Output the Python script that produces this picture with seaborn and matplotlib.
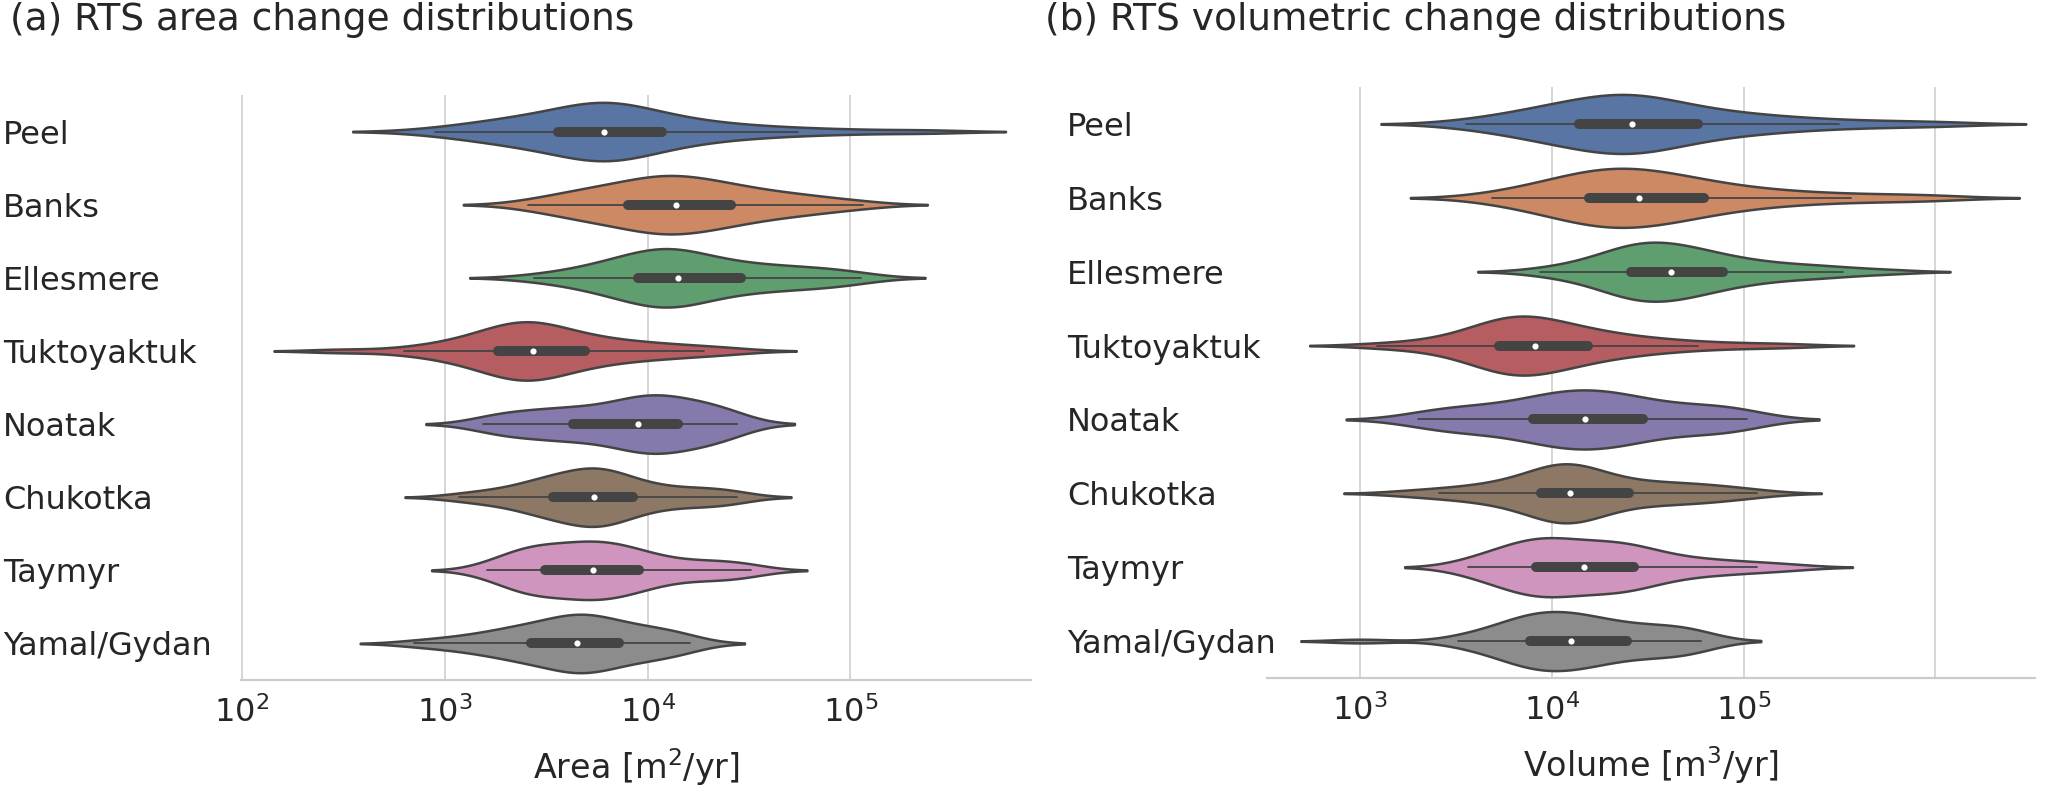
import numpy as np
import pandas as pd
import matplotlib
matplotlib.use("Agg")
import matplotlib.pyplot as plt
import seaborn as sns

regions = ["Peel", "Banks", "Ellesmere", "Tuktoyaktuk", "Noatak",
           "Chukotka", "Taymyr", "Yamal/Gydan"]

# ---- (a) RTS area change, log10(m^2/yr), values estimated from the figure ----
area_peel = [2.95, 3.10, 3.18, 3.25, 3.31, 3.36, 3.41, 3.45, 3.49, 3.52,
             3.57, 3.62, 3.66, 3.69, 3.71, 3.73, 3.745, 3.76, 3.77, 3.78,
             3.79, 3.81, 3.83, 3.86, 3.89, 3.92, 3.95, 3.98, 4.02, 4.06,
             4.10, 4.15, 4.21, 4.28, 4.36, 4.46, 4.58, 4.74, 4.98, 5.36]
area_banks = [3.41, 3.52, 3.59, 3.64, 3.69, 3.73, 3.77, 3.81, 3.85, 3.88,
              3.91, 3.94, 3.97, 4.00, 4.03, 4.05, 4.07, 4.09, 4.11, 4.13,
              4.15, 4.17, 4.20, 4.23, 4.26, 4.29, 4.32, 4.35, 4.37, 4.40,
              4.44, 4.48, 4.53, 4.58, 4.63, 4.69, 4.75, 4.82, 4.92, 5.06]
area_ellesmere = [3.44, 3.58, 3.66, 3.72, 3.77, 3.81, 3.85, 3.88, 3.91, 3.93,
                  3.96, 3.99, 4.02, 4.04, 4.06, 4.08, 4.09, 4.10, 4.12, 4.14,
                  4.16, 4.18, 4.21, 4.24, 4.27, 4.30, 4.33, 4.37, 4.41, 4.45,
                  4.50, 4.55, 4.60, 4.65, 4.71, 4.77, 4.83, 4.90, 4.97, 5.05]
area_tuktoyaktuk = [2.48, 2.80, 2.92, 3.00, 3.07, 3.12, 3.16, 3.19, 3.22, 3.24,
                    3.27, 3.30, 3.32, 3.34, 3.36, 3.38, 3.39, 3.40, 3.41, 3.43,
                    3.44, 3.46, 3.48, 3.50, 3.53, 3.56, 3.59, 3.62, 3.65, 3.68,
                    3.72, 3.77, 3.82, 3.88, 3.94, 4.00, 4.08, 4.17, 4.28, 4.41]
area_noatak = [3.19, 3.24, 3.29, 3.34, 3.39, 3.44, 3.49, 3.53, 3.57, 3.61,
               3.64, 3.68, 3.72, 3.76, 3.80, 3.84, 3.87, 3.90, 3.92, 3.94,
               3.96, 3.98, 4.00, 4.02, 4.04, 4.06, 4.08, 4.10, 4.12, 4.14,
               4.17, 4.20, 4.23, 4.26, 4.29, 4.32, 4.35, 4.38, 4.41, 4.44]
area_chukotka = [3.07, 3.17, 3.25, 3.32, 3.38, 3.42, 3.45, 3.48, 3.50, 3.52,
                 3.54, 3.57, 3.60, 3.63, 3.65, 3.67, 3.69, 3.71, 3.72, 3.73,
                 3.74, 3.75, 3.77, 3.79, 3.81, 3.83, 3.85, 3.87, 3.89, 3.92,
                 3.96, 4.00, 4.05, 4.10, 4.16, 4.22, 4.28, 4.34, 4.39, 4.44]
area_taymyr = [3.21, 3.27, 3.31, 3.35, 3.38, 3.40, 3.42, 3.44, 3.46, 3.48,
               3.50, 3.53, 3.56, 3.59, 3.62, 3.65, 3.67, 3.69, 3.71, 3.72,
               3.74, 3.76, 3.78, 3.80, 3.83, 3.86, 3.88, 3.90, 3.92, 3.95,
               3.98, 4.02, 4.07, 4.13, 4.19, 4.26, 4.33, 4.39, 4.45, 4.51]
area_yamal = [2.85, 2.99, 3.08, 3.15, 3.21, 3.26, 3.30, 3.34, 3.37, 3.40,
              3.43, 3.46, 3.49, 3.52, 3.55, 3.57, 3.59, 3.61, 3.63, 3.64,
              3.66, 3.68, 3.70, 3.71, 3.73, 3.75, 3.77, 3.79, 3.82, 3.85,
              3.88, 3.91, 3.94, 3.97, 4.01, 4.05, 4.09, 4.13, 4.17, 4.21]

# ---- (b) RTS volumetric change, log10(m^3/yr), values estimated from the figure ----
vol_peel = [3.55, 3.70, 3.79, 3.86, 3.92, 3.97, 4.02, 4.06, 4.09, 4.12,
            4.15, 4.19, 4.23, 4.27, 4.30, 4.33, 4.35, 4.37, 4.39, 4.41,
            4.43, 4.45, 4.47, 4.50, 4.53, 4.57, 4.61, 4.65, 4.70, 4.75,
            4.80, 4.86, 4.93, 5.01, 5.10, 5.20, 5.33, 5.50, 5.74, 6.03]
vol_banks = [3.69, 3.80, 3.88, 3.95, 4.00, 4.05, 4.09, 4.12, 4.15, 4.17,
             4.20, 4.24, 4.27, 4.30, 4.32, 4.34, 4.36, 4.38, 4.41, 4.44,
             4.47, 4.50, 4.53, 4.56, 4.59, 4.62, 4.66, 4.70, 4.74, 4.78,
             4.83, 4.89, 4.96, 5.04, 5.13, 5.24, 5.38, 5.56, 5.78, 6.01]
vol_ellesmere = [3.94, 4.07, 4.15, 4.21, 4.26, 4.30, 4.33, 4.36, 4.38, 4.40,
                 4.42, 4.44, 4.46, 4.48, 4.50, 4.52, 4.54, 4.56, 4.58, 4.61,
                 4.63, 4.65, 4.67, 4.70, 4.72, 4.75, 4.78, 4.81, 4.84, 4.88,
                 4.92, 4.97, 5.02, 5.08, 5.15, 5.23, 5.32, 5.42, 5.52, 5.75]
vol_tuktoyaktuk = [3.09, 3.30, 3.41, 3.49, 3.55, 3.60, 3.64, 3.67, 3.69, 3.71,
                   3.73, 3.75, 3.77, 3.79, 3.81, 3.83, 3.84, 3.86, 3.88, 3.90,
                   3.92, 3.94, 3.96, 3.99, 4.02, 4.05, 4.08, 4.11, 4.14, 4.18,
                   4.22, 4.27, 4.32, 4.38, 4.45, 4.53, 4.63, 4.76, 4.96, 5.22]
vol_noatak = [3.30, 3.37, 3.44, 3.51, 3.57, 3.63, 3.69, 3.75, 3.81, 3.87,
              3.91, 3.94, 3.97, 4.00, 4.03, 4.06, 4.09, 4.12, 4.14, 4.16,
              4.19, 4.22, 4.25, 4.28, 4.31, 4.34, 4.37, 4.40, 4.43, 4.46,
              4.52, 4.58, 4.64, 4.70, 4.76, 4.82, 4.88, 4.94, 4.98, 5.02]
vol_chukotka = [3.25, 3.41, 3.52, 3.61, 3.68, 3.74, 3.79, 3.84, 3.88, 3.92,
                3.95, 3.98, 4.00, 4.02, 4.04, 4.05, 4.06, 4.07, 4.08, 4.09,
                4.10, 4.12, 4.14, 4.16, 4.19, 4.22, 4.25, 4.29, 4.33, 4.39,
                4.44, 4.49, 4.55, 4.61, 4.67, 4.73, 4.79, 4.86, 4.95, 5.07]
vol_taymyr = [3.56, 3.62, 3.67, 3.72, 3.76, 3.80, 3.83, 3.86, 3.88, 3.90,
              3.92, 3.94, 3.96, 3.98, 4.00, 4.02, 4.05, 4.08, 4.11, 4.15,
              4.18, 4.21, 4.24, 4.27, 4.30, 4.33, 4.36, 4.38, 4.40, 4.42,
              4.45, 4.49, 4.54, 4.60, 4.67, 4.75, 4.84, 4.94, 5.07, 5.24]
vol_yamal = [3.00, 3.51, 3.60, 3.67, 3.72, 3.76, 3.80, 3.83, 3.85, 3.87,
             3.89, 3.91, 3.93, 3.95, 3.98, 4.00, 4.03, 4.05, 4.07, 4.09,
             4.11, 4.13, 4.15, 4.18, 4.21, 4.24, 4.27, 4.30, 4.34, 4.38,
             4.42, 4.46, 4.50, 4.55, 4.60, 4.64, 4.68, 4.72, 4.75, 4.78]

area_ticks = [2, 3, 4, 5]
area_ticklabels = ["$10^{2}$", "$10^{3}$", "$10^{4}$", "$10^{5}$"]
vol_ticks = [3, 4, 5, 6]
vol_ticklabels = ["$10^{3}$", "$10^{4}$", "$10^{5}$", ""]


def long_frame(groups):
    rows = []
    for name, vals in zip(regions, groups):
        for v in vals:
            rows.append((name, v))
    return pd.DataFrame(rows, columns=["region", "value"])


df_area = long_frame([area_peel, area_banks, area_ellesmere, area_tuktoyaktuk,
                      area_noatak, area_chukotka, area_taymyr, area_yamal])
df_vol = long_frame([vol_peel, vol_banks, vol_ellesmere, vol_tuktoyaktuk,
                     vol_noatak, vol_chukotka, vol_taymyr, vol_yamal])

sns.set_theme(style="whitegrid")
plt.rcParams["font.family"] = ["DejaVu Sans"]

W, H = 2067, 797
fig = plt.figure(figsize=(W / 100, H / 100), dpi=100)
ax_a = fig.add_axes([241 / W, 1 - 680 / H, 790 / W, 585 / H])
ax_b = fig.add_axes([1267 / W, 1 - 678 / H, 768 / W, 591 / H])

common = dict(x="value", y="region", hue="region", order=regions,
              hue_order=regions, palette="deep", legend=False, orient="h",
              inner="box", cut=2, bw_adjust=0.85, linewidth=1.8, width=0.8,
              density_norm="area", linecolor="#444444",
              inner_kws=dict(box_width=7.2, whis_width=1.3, marker="o",
                             markersize=3.0))

sns.violinplot(data=df_area, ax=ax_a, **common)
sns.violinplot(data=df_vol, ax=ax_b, **common)

for ax, xlim, ticks, labels, xlabel, pad in [
        (ax_a, (1.995, 5.89), area_ticks, area_ticklabels, "Area [m$^2$/yr]", 238),
        (ax_b, (2.514, 6.52), vol_ticks, vol_ticklabels, "Volume [m$^3$/yr]", 200)]:
    for ln in ax.lines:
        ln.set_solid_capstyle("round")
    ax.set_xlim(*xlim)
    ax.set_ylim(7.5, -0.5)
    ax.set_xticks(ticks)
    ax.set_xticklabels(labels, fontsize=23)
    ax.set_xlabel(xlabel, fontsize=24, labelpad=12)
    ax.set_ylabel("")
    ax.tick_params(axis="x", length=0, pad=12)
    ax.tick_params(axis="y", length=0, pad=pad * 0.72, labelsize=23)
    for lbl in ax.get_yticklabels():
        lbl.set_horizontalalignment("left")
    ax.yaxis.grid(False)
    ax.xaxis.grid(True, color="#cccccc", linewidth=1.1)
    sns.despine(ax=ax, left=True)
    ax.spines["bottom"].set_color("#cccccc")
    ax.spines["bottom"].set_linewidth(1.6)

fig.text(10 / W, 1 - 20 / H, "(a) RTS area change distributions",
         fontsize=27, ha="left", va="center")
fig.text(1045 / W, 1 - 20 / H, "(b) RTS volumetric change distributions",
         fontsize=27, ha="left", va="center")

fig.savefig("out.png", dpi=100)
